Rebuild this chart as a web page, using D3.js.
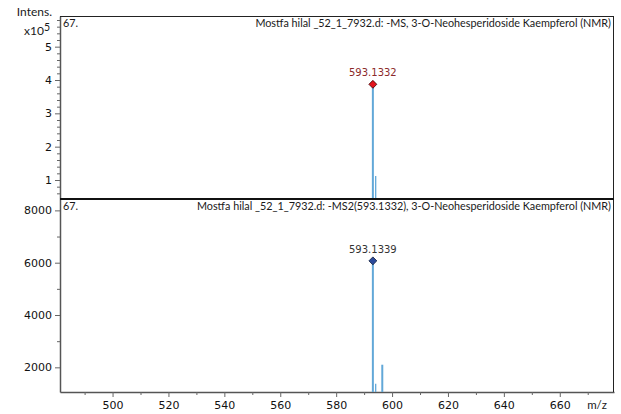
<!DOCTYPE html>
<html>
<head>
<meta charset="utf-8">
<script src="https://cdn.jsdelivr.net/npm/d3@7"></script>
<style>
  body { margin: 0; background: #fff; }
  svg { display: block; }
</style>
</head>
<body>
<div id="chart"></div>
<script>
// MS spectrum (top) and MS2 spectrum (bottom)
const msMz = [593.1332, 594.14];
const msIntens = [387000, 112000];
const ms2Mz = [593.1339, 594.14, 596.5];
const ms2Intens = [6070, 1370, 2100];

const xMajor = [500, 520, 540, 560, 580, 600, 620, 640, 660];
const xMinor = [490, 510, 530, 550, 570, 590, 610, 630, 650, 670];
const msTicks = [100000, 200000, 300000, 400000, 500000];
const ms2Ticks = [2000, 4000, 6000, 8000];
const ms2Minor = [3000, 5000, 7000];

const titles = [
  "Mostfa hilal _52_1_7932.d: -MS, 3-O-Neohesperidoside Kaempferol (NMR)",
  "Mostfa hilal _52_1_7932.d: -MS2(593.1332), 3-O-Neohesperidoside Kaempferol (NMR)"
];

const W = 621, H = 414;
const left = 60, right = 614;
const top1 = 16, mid = 199, bot = 392;

const svg = d3.select("#chart").append("svg")
  .attr("width", W).attr("height", H);

const x = d3.scaleLinear().domain([481.2, 679.4]).range([left, right]);
const y1 = d3.scaleLinear().domain([43000, 592000]).range([mid, top1]);
const y2 = d3.scaleLinear().domain([1057, 8435]).range([bot, mid]);

const tickFont = "DejaVu Sans, Verdana, sans-serif";
const titleFont = "Lato, Open Sans, sans-serif";
const peakColor = "#62a8d8";

// minor tick values for top axis every 0.2e5
const msMinor = d3.range(60000, 592000, 20000).filter(v => v % 100000 !== 0);

// top y axis
svg.append("g").attr("transform", `translate(${left},0)`)
  .call(d3.axisLeft(y1).tickValues(msTicks).tickFormat(d => d / 100000).tickSize(5).tickSizeOuter(0));
svg.append("g").attr("transform", `translate(${left},0)`)
  .call(d3.axisLeft(y1).tickValues(msMinor).tickFormat("").tickSize(3).tickSizeOuter(0))
  .select(".domain").remove();

// bottom y axis
svg.append("g").attr("transform", `translate(${left},0)`)
  .call(d3.axisLeft(y2).tickValues(ms2Ticks).tickFormat(d3.format("d")).tickSize(5).tickSizeOuter(0));
svg.append("g").attr("transform", `translate(${left},0)`)
  .call(d3.axisLeft(y2).tickValues(ms2Minor).tickFormat("").tickSize(3).tickSizeOuter(0))
  .select(".domain").remove();

// x axis
svg.append("g").attr("transform", `translate(0,${bot})`)
  .call(d3.axisBottom(x).tickValues(xMajor).tickSize(5).tickSizeOuter(0).tickPadding(4));
svg.append("g").attr("transform", `translate(0,${bot})`)
  .call(d3.axisBottom(x).tickValues(xMinor).tickFormat("").tickSize(3).tickSizeOuter(0))
  .select(".domain").remove();

svg.selectAll(".tick line").attr("stroke", "#666");
svg.selectAll(".domain").attr("stroke", "#555").attr("stroke-width", 1.5);
svg.selectAll(".tick text")
  .attr("font-family", tickFont).attr("font-size", "11px").attr("fill", "#111");

// frame lines
svg.append("line").attr("x1", left).attr("x2", right).attr("y1", top1 + 0.5).attr("y2", top1 + 0.5)
  .attr("stroke", "#222").attr("stroke-width", 1);
svg.append("line").attr("x1", right - 0.5).attr("x2", right - 0.5).attr("y1", top1).attr("y2", bot)
  .attr("stroke", "#222").attr("stroke-width", 1);

// peaks
svg.append("g").selectAll("line").data(msMz).join("line")
  .attr("x1", d => x(d)).attr("x2", d => x(d))
  .attr("y1", mid).attr("y2", (d, i) => y1(msIntens[i]))
  .attr("stroke", peakColor).attr("stroke-width", (d, i) => i === 0 ? 2 : 1.3);

svg.append("g").selectAll("line").data(ms2Mz).join("line")
  .attr("x1", d => x(d)).attr("x2", d => x(d))
  .attr("y1", bot).attr("y2", (d, i) => y2(ms2Intens[i]))
  .attr("stroke", peakColor).attr("stroke-width", (d, i) => i === 1 ? 1.3 : 2);

// divider between panels
svg.append("line").attr("x1", left).attr("x2", right).attr("y1", mid).attr("y2", mid)
  .attr("stroke", "#111").attr("stroke-width", 2);

// peak markers
const diamond = d3.symbol().type(d3.symbolDiamond2).size(40);
svg.append("path").attr("d", diamond)
  .attr("transform", `translate(${x(msMz[0])},${y1(msIntens[0])})`)
  .attr("fill", "#e3141c").attr("stroke", "#3a0000").attr("stroke-width", 0.8);
svg.append("text").attr("x", x(msMz[0])).attr("y", y1(msIntens[0]) - 8)
  .attr("text-anchor", "middle").attr("font-family", tickFont).attr("font-size", "10px")
  .attr("fill", "#8c2a2a").text(msMz[0].toFixed(4));

svg.append("path").attr("d", diamond)
  .attr("transform", `translate(${x(ms2Mz[0])},${y2(ms2Intens[0])})`)
  .attr("fill", "#2c4a9a").attr("stroke", "#0d1a3a").attr("stroke-width", 0.8);
svg.append("text").attr("x", x(ms2Mz[0])).attr("y", y2(ms2Intens[0]) - 8)
  .attr("text-anchor", "middle").attr("font-family", tickFont).attr("font-size", "10px")
  .attr("fill", "#333").text(ms2Mz[0].toFixed(4));

// titles and labels
[top1, mid].forEach((t, i) => {
  svg.append("text").attr("x", left + 3).attr("y", t + 11)
    .attr("font-family", titleFont).attr("font-size", "10.8px").attr("fill", "#1a1a1a").text("67.");
  svg.append("text").attr("x", right - 3).attr("y", t + 11)
    .attr("text-anchor", "end").attr("font-family", titleFont).attr("font-size", "10.8px")
    .attr("fill", "#1a1a1a").text(titles[i]);
});

svg.append("text").attr("x", 52).attr("y", 16).attr("text-anchor", "end")
  .attr("font-family", titleFont).attr("font-size", "12px").attr("fill", "#1a1a1a").text("Intens.");
const xl = svg.append("text").attr("x", 24).attr("y", 35)
  .attr("font-family", titleFont).attr("font-size", "12px").attr("fill", "#1a1a1a");
xl.append("tspan").text("x10");
xl.append("tspan").attr("dy", -4).attr("font-size", "10.5px").text("5");

svg.append("text").attr("x", 597).attr("y", 409).attr("text-anchor", "middle")
  .attr("font-family", titleFont).attr("font-size", "11.5px").attr("fill", "#1a1a1a").text("m/z");
</script>
</body>
</html>
